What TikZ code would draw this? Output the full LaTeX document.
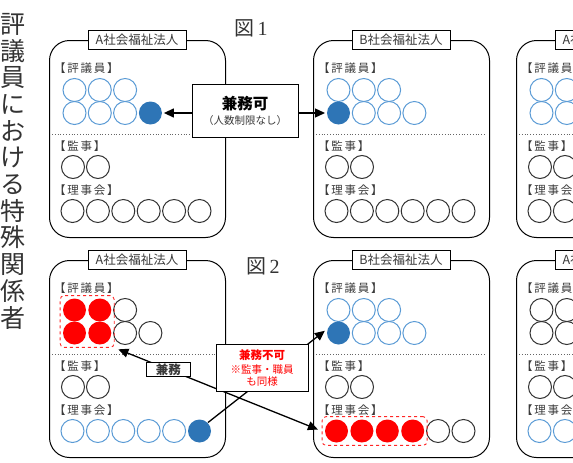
\documentclass[tikz,border=0pt]{standalone}
\usepackage{fontspec}
\setmainfont{Noto Sans CJK JP}
\newfontfamily\spacedcjk{Noto Sans CJK JP}[LetterSpace=15]
\newfontfamily\serifnum{Liberation Serif}
\usetikzlibrary{arrows.meta,fit}
\definecolor{lblue}{HTML}{5B9BD5}
\definecolor{dblue}{HTML}{2E75B6}
\definecolor{txtgray}{HTML}{3A3A3A}

% One corporation: frame, title tab, three sections of members.
% #1 name, #2 left, #3 top, #4 title, #5/#6 councillor rows, #7 auditors, #8 board
\newcommand\orgpanel[8]{%
  \node[panel, minimum width=176pt, minimum height=197pt, anchor=north west] (#1) at (#2,#3) {};
  \node[ptitle] (#1t) at (#2+88,#3) {#4};
  \node[sect] (#1s1) at (#2+5,#3+28) {【評議員】};
  \foreach \st [count=\i] in {#5} \node[\st] (#1r1\i) at (#2+0.2+25.3*\i,#3+50) {};
  \foreach \st [count=\i] in {#6} \node[\st] (#1r2\i) at (#2+0.2+25.3*\i,#3+73) {};
  \draw[sepline] (#2+3,#3+94) -- (#2+173,#3+94);
  \node[sect] (#1s2) at (#2+5,#3+106) {【監事】};
  \foreach \st [count=\i] in {#7} \node[\st] (#1a\i) at (#2-1+25*\i,#3+127) {};
  \node[sect] (#1s3) at (#2+5,#3+150) {【理事会】};
  \foreach \st [count=\i] in {#8} \node[\st] (#1b\i) at (#2-1.9+25.4*\i,#3+171) {};
}

\begin{document}
\begin{tikzpicture}[x=1pt,y=-1pt,
  panel/.style={draw, line width=1pt, rounded corners=20pt},
  ptitle/.style={draw, line width=0.8pt, fill=white, minimum width=98pt, minimum height=19pt,
    inner sep=0pt, font=\fontsize{12.5}{12.5}\selectfont, text=txtgray},
  sect/.style={anchor=west, inner sep=0pt, font=\spacedcjk\fontsize{11.5}{11.5}\selectfont, text=txtgray},
  mem/.style={circle, minimum size=23pt, inner sep=0pt, line width=1pt},
  mo/.style={mem, draw=black!80},
  mb/.style={mem, draw=lblue},
  mf/.style={mem, fill=dblue},
  mr/.style={mem, fill=red},
  sepline/.style={dotted, line width=0.8pt, black!60},
  tip/.style={-{Triangle[length=10pt,width=9pt]}},
  arr/.style={line width=1.3pt, tip},
  grp/.style={draw=red!85, dashed, line width=0.9pt, rounded corners=4pt, inner sep=2.4pt},
  infobox/.style={draw, fill=white, line width=0.9pt, align=center, inner sep=0pt},
]
\clip (0,0) rectangle (573,463);

% vertical heading
\node[anchor=north, align=center, inner sep=0pt, font=\fontsize{25}{26.7}\selectfont, text=black!80]
  (head) at (13,13) {評\\議\\員\\に\\お\\け\\る\\特\\殊\\関\\係\\者};

% figure numbers
\node[font=\fontsize{20}{20}\selectfont, text=black!80] (fig1) at (251,28) {図\,{\serifnum 1}};
\node[font=\fontsize{20}{20}\selectfont, text=black!80] (fig2) at (263,266) {図\,{\serifnum 2}};

% figure 1
\orgpanel{pa}{49}{40}{A社会福祉法人}{mb,mb,mb}{mb,mb,mb,mf}{mo,mo}{mo,mo,mo,mo,mo,mo}
\orgpanel{pb}{313}{40}{B社会福祉法人}{mb,mb,mb}{mf,mb,mb,mb}{mo,mo}{mo,mo,mo,mo,mo,mo}
\orgpanel{pc}{516}{40}{A社会福祉法人}{mb,mb,mb}{mb,mb,mb,mb}{mo,mo}{mo,mo,mo,mo,mo,mo}

\node[infobox, minimum width=106pt, minimum height=53pt] (ok) at (245,110.5)
  {\fontsize{15.5}{15.5}\selectfont\bfseries 兼務可\\[3pt]\fontsize{10.5}{10.5}\selectfont\mdseries\color{txtgray}（人数制限なし）};
\draw[arr, shorten >=1.5pt] (ok.west |- par24) -- (par24);
\draw[arr, shorten >=1.5pt] (ok.east |- pbr21) -- (pbr21);

% figure 2
\orgpanel{qa}{49}{260}{A社会福祉法人}{mr,mr,mo}{mr,mr,mo,mo}{mo,mo}{mb,mb,mb,mb,mb,mf}
\orgpanel{qb}{313}{260}{B社会福祉法人}{mb,mb,mb}{mf,mb,mb,mb}{mo,mo}{mr,mr,mr,mr,mo,mo}
\orgpanel{qc}{516}{260}{A社会福祉法人}{mo,mo,mo}{mo,mo,mo,mo}{mo,mo}{mb,mb,mb,mb,mb,mb}

% groups of concurrently held seats
\node[grp, fit=(qar11)(qar22)] (ga) {};
\node[grp, fit=(qbb1)(qbb4)] (gb) {};

\draw[arr, shorten >=3pt] (qab6.north east) -- (qbr21.160);
\draw[line width=1.3pt, {Triangle[length=10pt,width=9pt]}-{Triangle[length=10pt,width=9pt]},
  shorten <=4pt, shorten >=4pt] (ga.south east) --
  node[pos=0.26, infobox, minimum width=44pt, minimum height=14.5pt,
       font=\fontsize{12.5}{12.5}\selectfont\bfseries, text=txtgray] (dual) {兼務} (gb.west);

\node[infobox, minimum width=92pt, minimum height=47pt, text=red] (ng) at (262,367.5)
  {\fontsize{11.5}{11.5}\selectfont\bfseries 兼務不可\\[2pt]
   \fontsize{10.5}{15.5}\selectfont\mdseries ※監事・職員\\\fontsize{10.5}{15.5}\selectfont\mdseries も同様};
\end{tikzpicture}
\end{document}
